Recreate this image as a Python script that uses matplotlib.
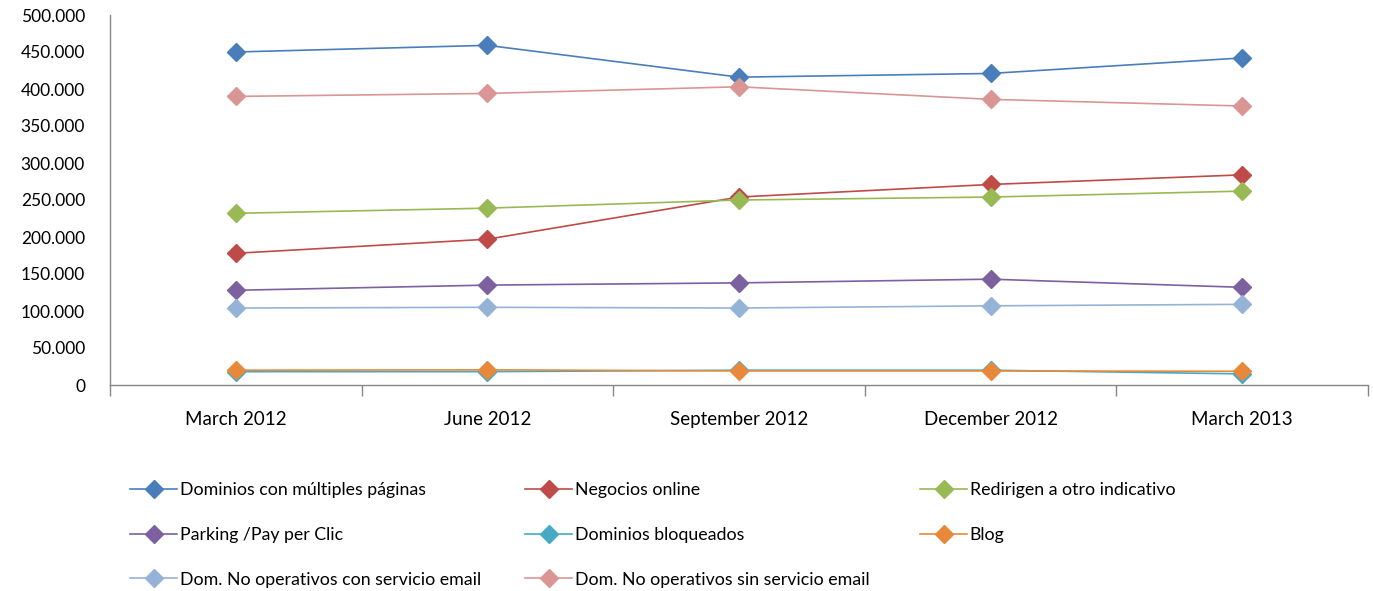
import numpy as np
import matplotlib
matplotlib.use("Agg")
import matplotlib.pyplot as plt
from matplotlib.ticker import FuncFormatter

plt.rcParams['font.family'] = ['Lato', 'DejaVu Sans']

categories = ["March 2012", "June 2012", "September 2012", "December 2012", "March 2013"]

multiples = [450000, 459000, 416000, 421000, 442000]
negocios = [178000, 197000, 254000, 271000, 284000]
redirigen = [232000, 239000, 250000, 254000, 262000]
parking = [128000, 135000, 138000, 143000, 132000]
bloqueados = [18000, 18000, 20000, 20000, 15000]
blog = [20000, 20500, 19000, 19000, 18500]
no_op_con = [104000, 105000, 104000, 107000, 109000]
no_op_sin = [390000, 394000, 403000, 386000, 377000]

series = [
    ("Dominios con múltiples páginas", multiples, "#4A7EBB"),
    ("Negocios online", negocios, "#BE4B48"),
    ("Redirigen a otro indicativo", redirigen, "#98B954"),
    ("Parking /Pay per Clic", parking, "#7D60A0"),
    ("Dominios bloqueados", bloqueados, "#46AAC5"),
    ("Blog", blog, "#E8883A"),
    ("Dom. No operativos con servicio email", no_op_con, "#95B3D7"),
    ("Dom. No operativos sin servicio email", no_op_sin, "#D99694"),
]

W, H = 1373, 591
fig = plt.figure(figsize=(W/100, H/100), dpi=100)
ax = fig.add_axes([110/W, 1-385/H, (1368-110)/W, 370/H])

x = np.arange(len(categories))
handles = []
for name, vals, col in series:
    h, = ax.plot(x, vals, color=col, lw=1.2, marker='D', markersize=9.5,
                 markeredgecolor=col, label=name)
    handles.append(h)

ax.set_xlim(-0.5, len(categories)-0.5)
ax.set_ylim(0, 500000)
ax.set_yticks(np.arange(0, 500001, 50000))
ax.yaxis.set_major_formatter(FuncFormatter(lambda v, p: f"{int(v):,}".replace(",", ".")))
ax.set_xticks(x)
ax.set_xticklabels(categories)
ax.set_xticks(np.arange(-0.5, len(categories)), minor=True)
ax.tick_params(axis='x', which='major', length=0, pad=19, labelsize=13.5)
ax.tick_params(axis='x', which='minor', length=8, color='#868686', width=1)
ax.tick_params(axis='y', length=0, pad=18, labelsize=12.5)

for s in ['top', 'right']:
    ax.spines[s].set_visible(False)
for s in ['left', 'bottom']:
    ax.spines[s].set_color('#868686')
    ax.spines[s].set_linewidth(1)

# legend laid out row by row in three columns
cols_x = [130, 525, 920]
for i, cx in enumerate(cols_x):
    hs = handles[i::3]
    fig.legend(handles=hs, labels=[h.get_label() for h in hs], loc='upper left',
               bbox_to_anchor=(cx/W, 1-482/H), frameon=False, fontsize=12.8,
               handlelength=2.65, handletextpad=0.15, labelspacing=1.62,
               borderpad=0, borderaxespad=0, markerscale=1.0)

fig.savefig("out.png", dpi=100)
